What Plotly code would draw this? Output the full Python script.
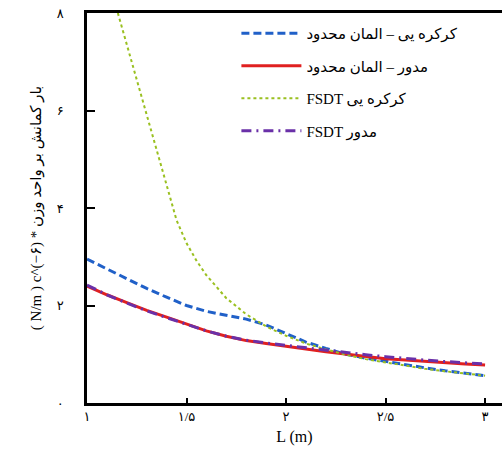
import plotly.graph_objects as go

# Data
L_vals = [1.0, 1.1, 1.2, 1.3, 1.4, 1.5, 1.6, 1.7, 1.8, 1.9, 2.0,
          2.1, 2.2, 2.3, 2.4, 2.5, 2.6, 2.7, 2.8, 2.9, 3.0]
blind_fem = [2.95, 2.75, 2.55, 2.35, 2.17, 2.0, 1.88, 1.80, 1.72, 1.6, 1.42,
             1.25, 1.12, 1.0, 0.92, 0.85, 0.78, 0.72, 0.66, 0.61, 0.56]
circ_fem = [2.40, 2.22, 2.06, 1.90, 1.76, 1.62, 1.48, 1.37, 1.28, 1.22, 1.17,
            1.11, 1.05, 1.00, 0.95, 0.91, 0.88, 0.85, 0.82, 0.80, 0.78]
L_fsdt_blind = [1.155, 1.2, 1.25, 1.3, 1.35, 1.4, 1.45, 1.5, 1.55, 1.6, 1.7, 1.8, 1.9, 2.0,
                2.1, 2.2, 2.3, 2.4, 2.5, 2.6, 2.7, 2.8, 2.9, 3.0]
blind_fsdt = [8.0, 7.35, 6.62, 5.9, 5.15, 4.45, 3.75, 3.28, 2.92, 2.62, 2.15, 1.82, 1.57, 1.38,
              1.22, 1.1, 0.99, 0.9, 0.83, 0.76, 0.7, 0.65, 0.6, 0.56]
circ_fsdt = [2.42, 2.22, 2.05, 1.89, 1.75, 1.61, 1.48, 1.37, 1.29, 1.23, 1.18,
             1.13, 1.08, 1.03, 0.99, 0.95, 0.91, 0.88, 0.85, 0.82, 0.80]

names = ["کرکره یی – المان محدود", "مدور – المان محدود", "FSDT کرکره یی", "FSDT مدور"]
x_ticks = [1, 1.5, 2, 2.5, 3]
x_tick_text = ["۱", "۱/۵", "۲", "۲/۵", "۳"]
y_ticks = [0, 2, 4, 6, 8]
y_tick_text = ["۰", "۲", "۴", "۶", "۸"]

FONT = "Liberation Serif, Times New Roman, DejaVu Sans, serif"

fig = go.Figure()
fig.add_trace(go.Scatter(x=L_vals, y=blind_fem, mode="lines", name=names[0],
                         legendgroup="a",
                         line=dict(color="#2060c8", width=3, dash="8px,4px")))
fig.add_trace(go.Scatter(x=L_vals, y=circ_fem, mode="lines", name=names[1],
                         legendgroup="b",
                         line=dict(color="#e02020", width=3)))
fig.add_trace(go.Scatter(x=L_fsdt_blind, y=blind_fsdt, mode="lines", name=names[2],
                         legendgroup="c",
                         line=dict(color="#9ac020", width=2, dash="dot")))
fig.add_trace(go.Scatter(x=L_vals, y=circ_fsdt, mode="lines", name=names[3],
                         legendgroup="d",
                         line=dict(color="#6a30a8", width=3, dash="10px,5px,2px,5px")))

fig.update_layout(
    width=502, height=457,
    margin=dict(l=87, r=0, t=13, b=54),
    paper_bgcolor="white", plot_bgcolor="white",
    font=dict(family=FONT, size=13, color="black"),
    showlegend=True,
    legend=dict(x=0.36, y=0.99, xanchor="left", yanchor="top",
                bgcolor="white", borderwidth=0,
                font=dict(size=15), itemwidth=60,
                traceorder="grouped", tracegroupgap=10),
)
fig.update_xaxes(range=[1, 3.085], tickvals=x_ticks, ticktext=x_tick_text,
                 showline=True, linecolor="black", linewidth=2.5, mirror=True,
                 ticks="inside", ticklen=5, tickwidth=2, tickcolor="black",
                 showgrid=False, zeroline=False,
                 title=dict(text="L (m)", font=dict(size=16), standoff=8),
                 tickfont=dict(size=13))
fig.update_yaxes(range=[0, 8], tickvals=y_ticks, ticktext=y_tick_text,
                 showline=True, linecolor="black", linewidth=2.5,
                 ticks="inside", ticklen=8, tickwidth=2, tickcolor="black",
                 showgrid=False, zeroline=False, ticklabelstandoff=18,
                 title=dict(text="( N/m ) c^(−۶) * بار کمانش بر واحد وزن",
                            font=dict(size=15), standoff=12),
                 tickfont=dict(size=13))

fig.write_html("out.html")
